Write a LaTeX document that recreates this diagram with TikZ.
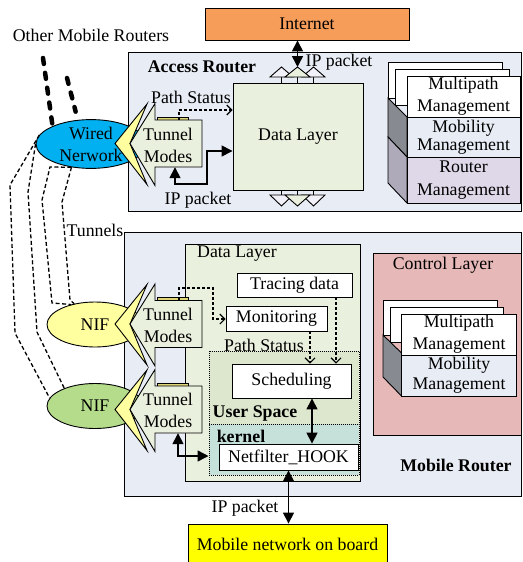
\documentclass[tikz,border=0pt]{standalone}
\usepackage{fontspec}
\setmainfont{Liberation Serif}
\usetikzlibrary{arrows.meta,shapes.geometric,calc}

\definecolor{routerbg}{RGB}{232,236,244}
\definecolor{datagreen}{RGB}{234,240,222}
\definecolor{usergreen}{RGB}{221,231,205}
\definecolor{kernelteal}{RGB}{198,224,218}
\definecolor{ctrlpink}{RGB}{230,184,183}
\definecolor{inetorange}{RGB}{247,157,90}
\definecolor{wiredblue}{RGB}{0,176,240}
\definecolor{lightyellow}{RGB}{255,255,160}
\definecolor{nifgreen}{RGB}{180,220,138}
\definecolor{stripyellow}{RGB}{222,212,120}
\definecolor{mgmtlav}{RGB}{222,216,232}
\definecolor{sidedark}{RGB}{135,138,144}
\definecolor{sidelight}{RGB}{175,170,186}
\definecolor{boardyellow}{RGB}{255,255,0}
\definecolor{triwhite}{RGB}{242,240,248}

\tikzset{
  % block arrow with a yellow chevron in front; origin at the arrow tip
  tunnelarrow/.pic={
    \draw[draw=black, line width=0.9pt, fill=stripyellow] (27,-26.5) rectangle (58,-23.5);
    \draw[draw=black, line width=0.9pt, fill=lightyellow]
      (17,-39.5) -- (-15,0) -- (17,41) -- (0,0) -- cycle;
    \draw[draw=black, line width=0.9pt, fill=datagreen]
      (0,0) -- (25,-40) -- (25,-23.5) -- (72,-23.5) -- (72,23.5) -- (25,23.5) -- (25,42) -- cycle;
  }
}

\begin{document}
\begin{tikzpicture}[x=1pt,y=-1pt,
  font=\fontsize{17.8}{21}\selectfont,
  bx/.style={draw=black, line width=0.9pt},
  boxnode/.style={bx, rectangle, inner sep=0pt, align=center},
  txt/.style={inner sep=0pt, align=center},
  boldtxt/.style={txt, font=\fontsize{17.8}{21}\selectfont\bfseries},
  dotbox/.style={draw=black, line width=1pt, densely dotted, rectangle, inner sep=0pt},
  solidarrow/.style={line width=1.5pt, {Triangle[length=11pt,width=11pt]}-{Triangle[length=11pt,width=11pt]}},
  statusline/.style={line width=1.1pt, dash pattern=on 3pt off 2pt, -{Straight Barb[length=5pt,width=10pt]}},
  tunnelline/.style={line width=1.3pt, dash pattern=on 4pt off 2.5pt},
  routerline/.style={line width=4.5pt, line cap=round, dash pattern=on 6pt off 9pt},
]
\useasboundingbox (0,0) rectangle (522,562);
\fill[white] (0,0) rectangle (522,562);

% ---------------- Access router ----------------
\node[boxnode, fill=routerbg, minimum width=393, minimum height=159] (ar) at (324.5,131.5) {};
\node[boldtxt] (arlbl) at (202,67) {Access Router};
\node[boxnode, fill=inetorange, minimum width=204, minimum height=32] (inet) at (307,24) {Internet};
\node[boxnode, fill=datagreen, minimum width=130, minimum height=107] (dlA) at (298,136.5) {Data Layer};

% interface triangles on the data layer
\draw[bx] (281.5,77) -- (281.5,83) (297.5,77) -- (297.5,83) (313.5,77) -- (313.5,83);
\draw[bx, fill=triwhite] (270,77) -- (281.5,67) -- (293,77) -- cycle;
\draw[bx, fill=triwhite] (302,77) -- (313.5,67) -- (325,77) -- cycle;
\draw[bx, fill=datagreen] (285,77) -- (297.5,67) -- (310,77) -- cycle;
\coordinate (triA) at (297.5,67);
\draw[bx] (281.5,190) -- (281.5,195) (297.5,190) -- (297.5,195) (313.5,190) -- (313.5,195);
\draw[bx, fill=triwhite] (270,195) -- (281.5,206) -- (293,195) -- cycle;
\draw[bx, fill=triwhite] (302,195) -- (313.5,206) -- (325,195) -- cycle;
\draw[bx, fill=datagreen] (285,195) -- (297.5,206) -- (310,195) -- cycle;

\draw[solidarrow] (inet.south -| triA) -- (triA);
\node[txt] (ipInet) at (339,62) {IP packet};

% management stack
\draw[bx, fill=sidedark] (388,98) -- (388,137) -- (407,157) -- (407,117) -- cycle;
\draw[bx, fill=sidelight] (388,137) -- (388,183) -- (407,203) -- (407,157) -- cycle;
\node[boxnode, fill=white, minimum width=114, minimum height=36] (cardA1) at (445,80) {};
\node[boxnode, fill=white, minimum width=114, minimum height=36] (cardA2) at (452,87) {};
\node[boxnode, fill=white, minimum width=113, minimum height=41,
      font=\fontsize{17.8}{22}\selectfont] (mpA) at (463.5,96.5) {Multipath\\Management};
\node[boxnode, fill=routerbg, minimum width=113, minimum height=40,
      font=\fontsize{17.8}{18}\selectfont] (mobA) at (463.5,137) {Mobility\\Management};
\node[boxnode, fill=mgmtlav, minimum width=113, minimum height=46,
      font=\fontsize{17.8}{23}\selectfont] (rmA) at (463.5,180) {Router\\Management};

% ---------------- Mobile router ----------------
\node[boxnode, fill=routerbg, minimum width=397, minimum height=264] (mr) at (322.5,364) {};
\node[boldtxt] (mrlbl) at (456,465) {Mobile Router};
\node[boxnode, fill=datagreen, minimum width=175, minimum height=237] (dlB) at (272.5,362.5) {};
\node[txt, anchor=west] (dlBlbl) at (197,254) {Data Layer};
\node[boxnode, fill=white, minimum width=115, minimum height=24] (trace) at (294.5,285) {Tracing data};
\node[boxnode, fill=white, minimum width=101, minimum height=25] (mon) at (276.5,318.5) {Monitoring};
\node[dotbox, fill=usergreen, minimum width=150, minimum height=124] (us) at (284,413) {};
\node[dotbox, fill=kernelteal, minimum width=150, minimum height=51] (kern) at (284,449.5) {};
\node[boxnode, fill=white, minimum width=119, minimum height=34] (sched) at (291.5,381) {Scheduling};
\node[boldtxt] (uslbl) at (255,413) {User Space};
\node[boldtxt] (kernlbl) at (241,436) {kernel};
\node[boxnode, fill=white, minimum width=139, minimum height=26] (nf) at (288.5,457) {Netfilter\_HOOK};
\node[txt] (psBlbl) at (264,345) {Path Status};

\coordinate (mx) at (310,0);
\coordinate (tx) at (336,0);
\coordinate (sx) at (312,0);
\draw[statusline] (mon.south -| mx) -- (sched.north -| mx);
\draw[statusline] (trace.south -| tx) -- (sched.north -| tx);
\draw[solidarrow] (sched.south -| sx) -- (nf.north -| sx);

% control layer
\node[boxnode, fill=ctrlpink, minimum width=148, minimum height=182] (cl) at (447,344) {};
\node[txt] (cllbl) at (443,265) {Control Layer};
\draw[bx, fill=sidedark] (383,335) -- (383,377) -- (401.5,396) -- (401.5,353) -- cycle;
\node[boxnode, fill=white, minimum width=114, minimum height=35] (cardB1) at (440,317.5) {};
\node[boxnode, fill=white, minimum width=113, minimum height=35] (cardB2) at (446.5,324.5) {};
\node[boxnode, fill=white, minimum width=115, minimum height=41,
      font=\fontsize{17.8}{22}\selectfont] (mpB) at (459,334.5) {Multipath\\Management};
\node[boxnode, fill=routerbg, minimum width=115, minimum height=41,
      font=\fontsize{17.8}{20}\selectfont] (mobB) at (459,375.5) {Mobility\\Management};

% on-board network
\node[boxnode, fill=boardyellow, minimum width=199, minimum height=40] (board) at (287.5,544) {Mobile network on board};
\draw[solidarrow] (nf.south) -- (board.north -| nf.south);
\node[txt] (ipBoard) at (245,508) {IP packet};

% ---------------- outside links ----------------
\node[txt] (others) at (91,35) {Other Mobile Routers};
\node[txt] (tunlbl) at (95,230) {Tunnels};

\node[ellipse, bx, fill=wiredblue, minimum width=110, minimum height=48, inner sep=0pt,
      align=center, font=\fontsize{17.8}{22}\selectfont] (wired) at (91,144) {Wired\\Nerwork};
\node[ellipse, bx, fill=lightyellow, minimum width=96, minimum height=45, inner sep=0pt] (nifA) at (95,324.5) {NIF};
\node[ellipse, bx, fill=nifgreen, minimum width=96, minimum height=45, inner sep=0pt] (nifB) at (95,406) {NIF};

\draw[tunnelline] (wired.170) -- (10,185) -- (15,333) -- (nifB.170);
\draw[tunnelline] (wired.180) -- (28,192) -- (37,332) -- (nifB.150);
\draw[tunnelline] (wired.230) -- (50,167) -- (42,200) -- (52,303) -- (nifA.140);
\draw[tunnelline] (wired.230) -- (62,202) -- (70,300) -- (nifA.135);

\coordinate (omrA) at (43,58);
\coordinate (omrB) at (67,78);
\draw[routerline] (omrA) -- (wired.155);
\draw[routerline] (omrB) -- ($(wired.115)+(-4,-8)$);

% tunnel mode blocks
\pic at (130,143.5) {tunnelarrow};
\pic at (130,324) {tunnelarrow};
\pic at (130,409.5) {tunnelarrow};
\node[rectangle, inner sep=0pt, minimum width=47, minimum height=47] (tmA) at (178.5,143.5) {};
\node[rectangle, inner sep=0pt, minimum width=47, minimum height=48] (tmB) at (178.5,324) {};
\node[rectangle, inner sep=0pt, minimum width=47, minimum height=47] (tmC) at (178.5,409.5) {};
\node[txt, font=\fontsize{17.8}{22}\selectfont] (tmAtxt) at (168,145) {Tunnel\\Modes};
\node[txt, font=\fontsize{17.8}{22}\selectfont] (tmBtxt) at (168,325) {Tunnel\\Modes};
\node[txt, font=\fontsize{17.8}{22}\selectfont] (tmCtxt) at (168,410) {Tunnel\\Modes};

% access router links
\coordinate (psA) at (179,110);
\draw[statusline] (tmA.north -| psA) -- (psA) -- (dlA.west |- psA);
\node[txt] (psAlbl) at (191,97) {Path Status};
\coordinate (ipA) at (175,184);
\coordinate (ipB) at (207,151);
\draw[solidarrow] (tmA.south -| ipA) -- (ipA) -| (ipB) -- (dlA.west |- ipB);
\node[txt] (ipAlbl) at (198,200) {IP packet};

% mobile router links
\coordinate (pbA) at (179,288);
\coordinate (pbB) at (213,319);
\draw[statusline] (tmB.north -| pbA) -- (pbA) -| (pbB) -- (mon.west |- pbB);
\coordinate (kA) at (178,456);
\draw[solidarrow] (tmC.south -| kA) -- (kA) -- (kern.west |- kA);
\end{tikzpicture}
\end{document}
